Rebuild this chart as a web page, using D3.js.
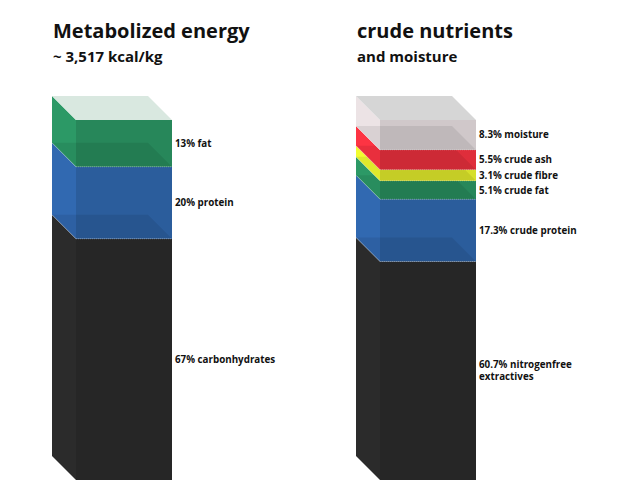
<!DOCTYPE html><html><head><meta charset="utf-8"><script src="https://cdn.jsdelivr.net/npm/d3@7"></script>
<style>body{margin:0;background:#fff}text{font-family:"Open Sans",sans-serif;font-weight:bold;fill:#111}</style></head><body><svg width="638" height="499"></svg>
<script>
const energyLabels=[["67% carbonhydrates"],["20% protein"],["13% fat"]];
const energyValues=[67,20,13];
const energyColors=["#262626","#2b5d9c","#27875a"];
const nutrientLabels=[["60.7% nitrogenfree","extractives"],["17.3% crude protein"],["5.1% crude fat"],["3.1% crude fibre"],["5.5% crude ash"],["8.3% moisture"]];
const nutrientValues=[60.7,17.3,5.1,3.1,5.5,8.3];
const nutrientColors=["#262626","#2b5d9c","#27875a","#d6df2a","#df2e3b","#d0c8ca"];
const svg=d3.select("svg");
const y=d3.scaleLinear().domain([0,100]).range([480,120]);
const D=24,W=96;
function bar(x0,vals,cols,labels,topCol){
  const g=svg.append("g");
  let cum=0;const layers=vals.map((v,i)=>{const l={a:cum,b:cum+v,c:cols[i],t:labels[i]};cum+=v;return l;});
  layers.forEach((l,i)=>{
    const y0=y(l.b),y1=y(l.a);
    const side=d3.color(l.c).brighter(0.35);
    g.append("path").attr("d",`M${x0-D},${y0-D}L${x0},${y0}L${x0},${y1}L${x0-D},${y1-D}Z`).attr("fill",side);
    g.append("rect").attr("x",x0).attr("y",y0).attr("width",W).attr("height",y1-y0).attr("fill",l.c);
    if(i>0){g.append("path").attr("d",`M${x0},${y1}L${x0+W},${y1}L${x0+W-D},${y1-D}L${x0-D},${y1-D}Z`).attr("fill","#000").attr("opacity",0.08);
      g.append("line").attr("x1",x0-D).attr("y1",y1-D).attr("x2",x0).attr("y2",y1).attr("stroke","#fff").attr("stroke-opacity",0.35).attr("stroke-width",0.8);
      g.append("line").attr("x1",x0).attr("y1",y1).attr("x2",x0+W).attr("y2",y1).attr("stroke","#fff").attr("stroke-opacity",0.3).attr("stroke-width",0.8).attr("stroke-dasharray","1,1");}
    const ym=(y0+y1)/2;
    const t=g.append("text").attr("x",x0+W+3).attr("y",ym+3.5-(l.t.length-1)*6).attr("font-size",9.8);
    l.t.forEach((s,j)=>t.append("tspan").attr("x",x0+W+3).attr("dy",j?12:0).text(s));
  });
  const yt=y(100);
  g.append("path").attr("d",`M${x0},${yt}L${x0+W},${yt}L${x0+W-D},${yt-D}L${x0-D},${yt-D}Z`).attr("fill",topCol);
}
bar(76,energyValues,energyColors,energyLabels,"#d9e8e0");
bar(380,nutrientValues,nutrientColors,nutrientLabels,"#d6d6d6");
svg.append("text").attr("x",53).attr("y",38).attr("font-size",20).text("Metabolized energy");
svg.append("text").attr("x",53).attr("y",62).attr("font-size",15).text("~ 3,517 kcal/kg");
svg.append("text").attr("x",357).attr("y",38).attr("font-size",20).text("crude nutrients");
svg.append("text").attr("x",357).attr("y",62).attr("font-size",15).text("and moisture");
</script></body></html>
